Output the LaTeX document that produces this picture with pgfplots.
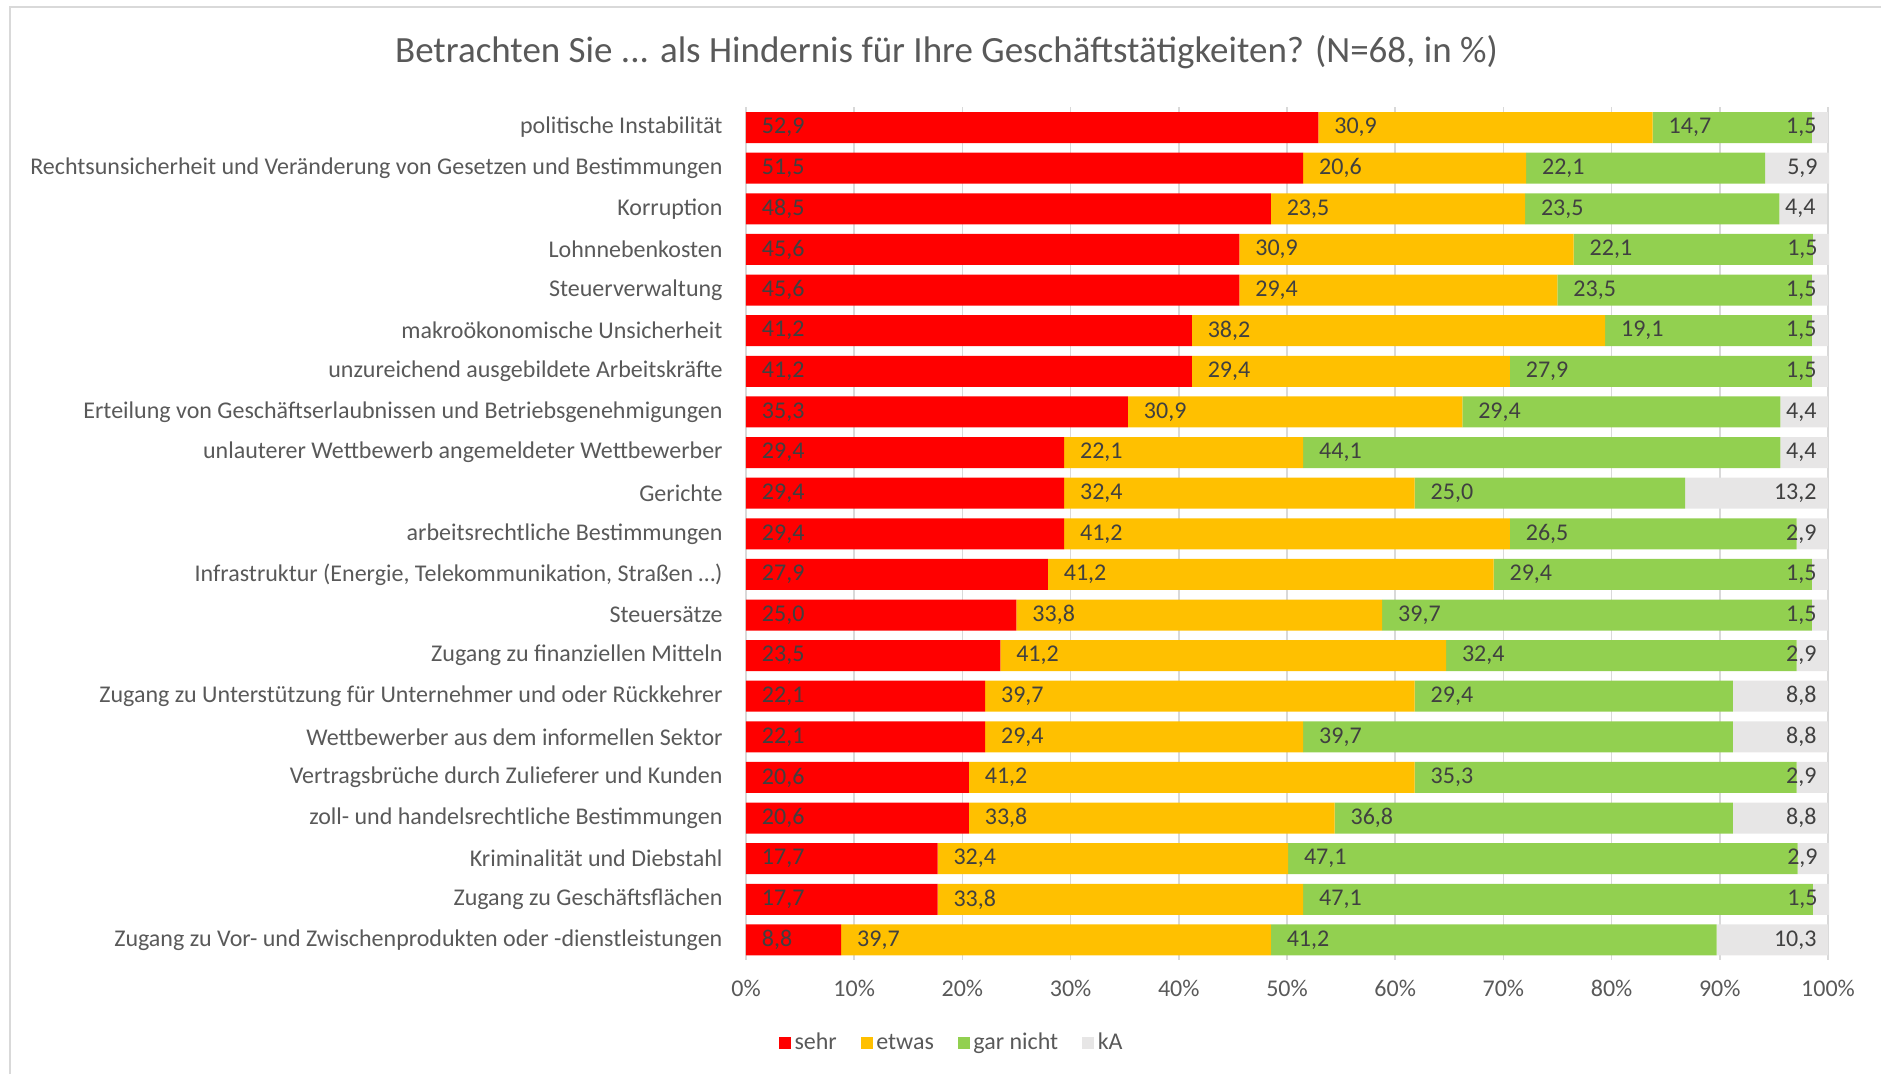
\documentclass[border=0pt]{standalone}
\usepackage{fontspec}
\setmainfont{Carlito}
\usepackage{pgfplots}
\usepackage{pgfplotstable}
\pgfplotsset{compat=1.18}
\definecolor{cSehr}{HTML}{FF0000}
\definecolor{cEtwas}{HTML}{FFC000}
\definecolor{cGar}{HTML}{92D050}
\definecolor{cKA}{HTML}{E7E6E6}
\definecolor{txt}{HTML}{595959}
\definecolor{lbl}{HTML}{404040}
\definecolor{grd}{HTML}{D9D9D9}
\pgfplotstableread{
idx sehr etwas gar kA
0  52.9 30.9 14.7 1.5
1  51.5 20.6 22.1 5.9
2  48.5 23.5 23.5 4.4
3  45.6 30.9 22.1 1.5
4  45.6 29.4 23.5 1.5
5  41.2 38.2 19.1 1.5
6  41.2 29.4 27.9 1.5
7  35.3 30.9 29.4 4.4
8  29.4 22.1 44.1 4.4
9  29.4 32.4 25.0 13.2
10 29.4 41.2 26.5 2.9
11 27.9 41.2 29.4 1.5
12 25.0 33.8 39.7 1.5
13 23.5 41.2 32.4 2.9
14 22.1 39.7 29.4 8.8
15 22.1 29.4 39.7 8.8
16 20.6 41.2 35.3 2.9
17 20.6 33.8 36.8 8.8
18 17.7 32.4 47.1 2.9
19 17.7 33.8 47.1 1.5
20 8.8 39.7 41.2 10.3
}\datatable
\begin{document}
\begin{tikzpicture}
\useasboundingbox (0,0) rectangle (752.4pt,429.6pt);
\draw[grd, line width=0.8pt] (4pt,0) -- (4pt,426.8pt) -- (752.4pt,426.8pt);
\node[text=txt, font=\fontsize{14.8}{17}\selectfont] at (378.6pt,408.8pt) {Betrachten Sie ... als Hindernis für Ihre Geschäftstätigkeiten? (N=68, in \%)};
\begin{axis}[
  at={(298.4pt,45.5pt)}, anchor=south west,
  scale only axis, width=433.23pt, height=341.2pt,
  xbar stacked, bar width=12.4pt,
  xmin=0, xmax=100.1, ymin=-0.5, ymax=20.5,
  y dir=reverse,
  /pgf/number format/assume math mode=true,
  axis line style={draw=none},
  major tick length=0pt,
  xtick={0,10,20,30,40,50,60,70,80,90,100},
  xticklabels={0\%,10\%,20\%,30\%,40\%,50\%,60\%,70\%,80\%,90\%,100\%},
  xmajorgrids, major grid style={grd, line width=0.6pt},
  ytick={0,1,2,3,4,5,6,7,8,9,10,11,12,13,14,15,16,17,18,19,20},
  yticklabels={politische Instabilität,
    Rechtsunsicherheit und Veränderung von Gesetzen und Bestimmungen,
    Korruption, Lohnnebenkosten, Steuerverwaltung,
    makroökonomische Unsicherheit,
    unzureichend ausgebildete Arbeitskräfte,
    Erteilung von Geschäftserlaubnissen und Betriebsgenehmigungen,
    unlauterer Wettbewerb angemeldeter Wettbewerber,
    Gerichte, arbeitsrechtliche Bestimmungen,
    {Infrastruktur (Energie, Telekommunikation, Straßen …)},
    Steuersätze, Zugang zu finanziellen Mitteln,
    Zugang zu Unterstützung für Unternehmer und oder Rückkehrer,
    Wettbewerber aus dem informellen Sektor,
    Vertragsbrüche durch Zulieferer und Kunden,
    zoll- und handelsrechtliche Bestimmungen,
    Kriminalität und Diebstahl, Zugang zu Geschäftsflächen,
    Zugang zu Vor- und Zwischenprodukten oder -dienstleistungen},
  yticklabel style={anchor=east, inner sep=0pt, xshift=-9.2pt, text=txt, font=\fontsize{9.6}{11}\selectfont},
  xticklabel style={anchor=north, inner sep=0pt, yshift=-7.7pt, text=txt, font=\fontsize{9.6}{11}\selectfont},
  every node near coord/.append style={text=lbl, font=\fontsize{9.6}{11}\selectfont, inner sep=0pt},
  legend style={draw=none, fill=none, at={(0.1907,-0.0975)}, anchor=center,
    legend columns=-1, font=\fontsize{9.6}{11}\selectfont, text=txt,
    /tikz/every even column/.append style={column sep=8pt},
    nodes={inner sep=1.5pt}},
  legend image code/.code={\draw[#1,draw=none] (0pt,-2.4pt) rectangle (4.8pt,2.4pt);},
  nodes near coords={\pgfmathprintnumber[fixed,fixed zerofill,precision=1,use comma]{\pgfplotspointmeta}},
]
\addplot[draw=none, fill=cSehr, point meta=explicit,
  visualization depends on={\thisrow{sehr}\as\segv},
  every node near coord/.append style={anchor=west, xshift={6.2pt-2.164pt*\segv}}]
  table[x=sehr, y=idx, meta=sehr] {\datatable};
\addplot[draw=none, fill=cEtwas, point meta=explicit,
  visualization depends on={\thisrow{etwas}\as\segv},
  every node near coord/.append style={anchor=west, xshift={6.2pt-2.164pt*\segv}}]
  table[x=etwas, y=idx, meta=etwas] {\datatable};
\addplot[draw=none, fill=cGar, point meta=explicit,
  visualization depends on={\thisrow{gar}\as\segv},
  every node near coord/.append style={anchor=west, xshift={6.2pt-2.164pt*\segv}}]
  table[x=gar, y=idx, meta=gar] {\datatable};
\addplot[draw=none, fill=cKA, point meta=explicit,
  visualization depends on={\thisrow{kA}\as\segv},
  every node near coord/.append style={anchor=east, xshift={2.164pt*\segv-4.4pt}}]
  table[x=kA, y=idx, meta=kA] {\datatable};
\legend{sehr, etwas, gar nicht, kA}
\end{axis}
\end{tikzpicture}
\end{document}
